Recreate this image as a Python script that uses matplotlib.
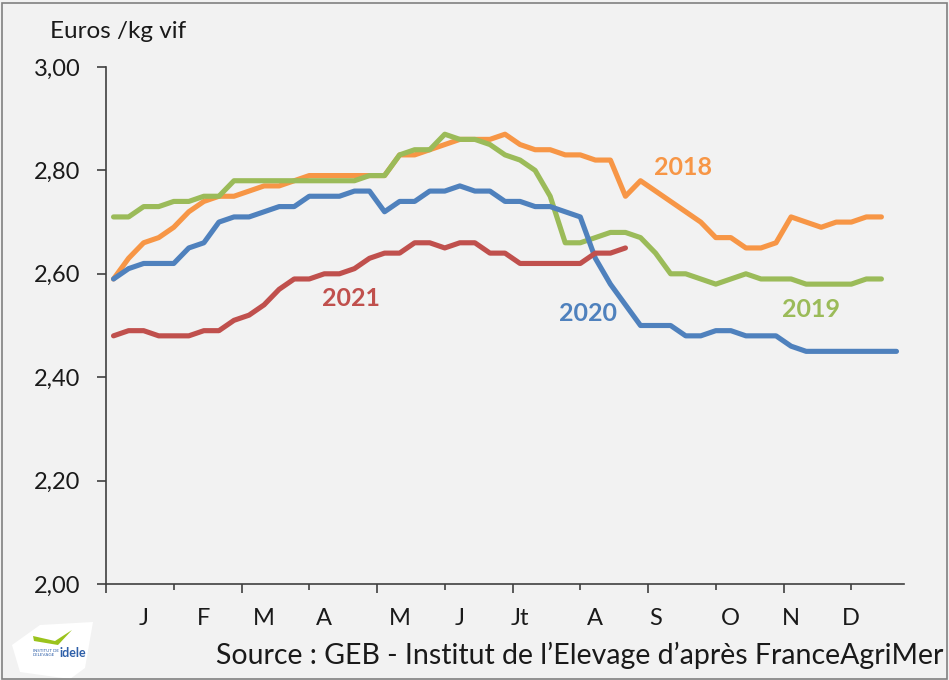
import numpy as np
import matplotlib.pyplot as plt
from matplotlib.patches import Rectangle, Polygon

# weekly prices, euros / kg live weight
price_2018 = [2.59, 2.63, 2.66, 2.67, 2.69, 2.72, 2.74, 2.75, 2.75, 2.76,
              2.77, 2.77, 2.78, 2.79, 2.79, 2.79, 2.79, 2.79, 2.79, 2.83,
              2.83, 2.84, 2.85, 2.86, 2.86, 2.86, 2.87, 2.85, 2.84, 2.84,
              2.83, 2.83, 2.82, 2.82, 2.75, 2.78, 2.76, 2.74, 2.72, 2.70,
              2.67, 2.67, 2.65, 2.65, 2.66, 2.71, 2.70, 2.69, 2.70, 2.70,
              2.71, 2.71]
price_2019 = [2.71, 2.71, 2.73, 2.73, 2.74, 2.74, 2.75, 2.75, 2.78, 2.78,
              2.78, 2.78, 2.78, 2.78, 2.78, 2.78, 2.78, 2.79, 2.79, 2.83,
              2.84, 2.84, 2.87, 2.86, 2.86, 2.85, 2.83, 2.82, 2.80, 2.75,
              2.66, 2.66, 2.67, 2.68, 2.68, 2.67, 2.64, 2.60, 2.60, 2.59,
              2.58, 2.59, 2.60, 2.59, 2.59, 2.59, 2.58, 2.58, 2.58, 2.58,
              2.59, 2.59]
price_2020 = [2.59, 2.61, 2.62, 2.62, 2.62, 2.65, 2.66, 2.70, 2.71, 2.71,
              2.72, 2.73, 2.73, 2.75, 2.75, 2.75, 2.76, 2.76, 2.72, 2.74,
              2.74, 2.76, 2.76, 2.77, 2.76, 2.76, 2.74, 2.74, 2.73, 2.73,
              2.72, 2.71, 2.63, 2.58, 2.54, 2.50, 2.50, 2.50, 2.48, 2.48,
              2.49, 2.49, 2.48, 2.48, 2.48, 2.46, 2.45, 2.45, 2.45, 2.45,
              2.45, 2.45, 2.45]
price_2021 = [2.48, 2.49, 2.49, 2.48, 2.48, 2.48, 2.49, 2.49, 2.51, 2.52,
              2.54, 2.57, 2.59, 2.59, 2.60, 2.60, 2.61, 2.63, 2.64, 2.64,
              2.66, 2.66, 2.65, 2.66, 2.66, 2.64, 2.64, 2.62, 2.62, 2.62,
              2.62, 2.62, 2.64, 2.64, 2.65]

months = ["J", "F", "M", "A", "M", "J", "Jt", "A", "S", "O", "N", "D"]
month_weeks = [2, 6, 10, 14, 19, 23, 27, 32, 36, 41, 45, 49]
yticks = [2.0, 2.2, 2.4, 2.6, 2.8, 3.0]

series = [
    ("2018", price_2018, "#F79646", (37.8, 2.805)),
    ("2019", price_2019, "#9BBB59", (46.3, 2.530)),
    ("2020", price_2020, "#4F81BD", (31.5, 2.524)),
    ("2021", price_2021, "#C0504D", (15.8, 2.553)),
]

bg = "#F2F2F2"
axis_col = "#404040"
txt_col = "#1a1a1a"
plt.rcParams['font.family'] = ['Lato', 'DejaVu Sans']

fig = plt.figure(figsize=(9.49, 6.8), dpi=100, facecolor=bg)
ax = fig.add_axes([106 / 949, 96 / 680, 798 / 949, 517 / 680])
ax.set_facecolor(bg)

for name, vals, col, pos in series:
    ax.plot(np.arange(len(vals)), vals, color=col, lw=3.7,
            solid_capstyle='round', solid_joinstyle='round')
    ax.text(pos[0], pos[1], name, color=col, fontsize=18, fontweight='bold',
            ha='center', va='center')

ax.set_xlim(-0.5, 52.5)
ax.set_ylim(2.0, 3.0)

for s in ['top', 'right']:
    ax.spines[s].set_visible(False)
for s in ['left', 'bottom']:
    ax.spines[s].set_color(axis_col)
    ax.spines[s].set_linewidth(1.2)

ax.set_yticks(yticks)
ax.set_yticklabels([f"{v:.2f}".replace(".", ",") for v in yticks],
                   fontsize=17, color=txt_col)
ax.tick_params(axis='y', direction='out', length=6.5, width=1.2,
               color=axis_col, pad=12)

ticks = -0.5 + 4.5 * np.arange(12)
ax.set_xticks(ticks[::2])
ax.set_xticks(ticks[1::2], minor=True)
ax.set_xticklabels([])
ax.tick_params(axis='x', which='major', direction='out', length=6.5,
               width=1.2, color=axis_col)
ax.tick_params(axis='x', which='minor', direction='out', length=4.3,
               width=1.2, color=axis_col)

for w, m in zip(month_weeks, months):
    ax.text(w, -0.066, m, transform=ax.get_xaxis_transform(), ha='center',
            va='center', fontsize=17, color=txt_col)

fig.text(50 / 949, 1 - 32 / 680, "Euros /kg vif", fontsize=17.5,
         color=txt_col, ha='left', va='center')
fig.text(943 / 949, 1 - 655 / 680,
         "Source : GEB - Institut de l\u2019Elevage d\u2019apr\u00e8s FranceAgriMer",
         fontsize=20.5, color=txt_col, ha='right', va='center')

# small logo placeholder, bottom left
fig.patches.append(Polygon([(12 / 949, 1 - 645 / 680), (40 / 949, 1 - 625 / 680),
                            (93 / 949, 1 - 622 / 680), (85 / 949, 1 - 668 / 680),
                            (70 / 949, 1 - 679 / 680), (20 / 949, 1 - 672 / 680)],
                           closed=True, transform=fig.transFigure,
                           facecolor='white', edgecolor='none'))
fig.text(60 / 949, 1 - 653 / 680, "idele", fontsize=9, fontweight='bold',
         color="#2E5FA8", ha='left', va='center')
fig.text(33 / 949, 1 - 653 / 680, "INSTITUT DE\nL'ELEVAGE", fontsize=3.2,
         color="#2E5FA8", ha='left', va='center', linespacing=0.9)
fig.patches.append(Polygon([(33 / 949, 1 - 636 / 680), (55 / 949, 1 - 641 / 680),
                            (72 / 949, 1 - 630 / 680), (58 / 949, 1 - 645 / 680),
                            (34 / 949, 1 - 641 / 680)],
                           closed=True, transform=fig.transFigure,
                           facecolor='#9BC31C', edgecolor='none'))

fig.patches.append(Rectangle((0.002, 0.002), 0.996, 0.994, transform=fig.transFigure,
                             fill=False, edgecolor='#808080', linewidth=1.2))

fig.savefig("out.png", dpi=100, facecolor=bg)
